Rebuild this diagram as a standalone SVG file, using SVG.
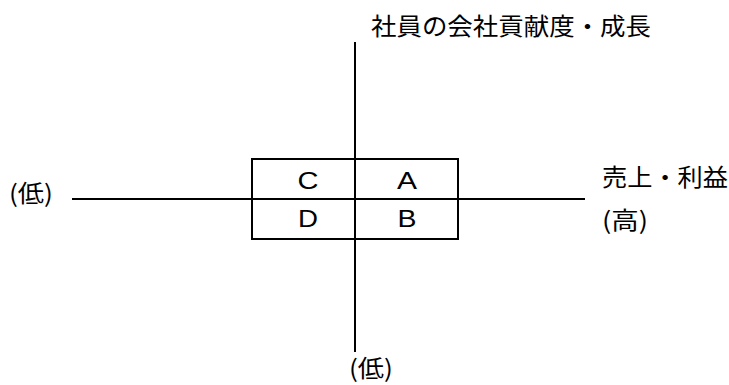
<svg xmlns="http://www.w3.org/2000/svg" width="729" height="385" viewBox="0 0 729 385">
<style>
.ln{stroke:#000;stroke-width:2;fill:none}
.jp{font-family:"Noto Sans CJK JP","Noto Sans",sans-serif;font-size:24px;fill:#000}
.lat{font-family:"Liberation Sans",Arial,sans-serif;font-size:23px;fill:#000;text-anchor:middle}
</style>
<rect width="729" height="385" fill="#fff"/>
<g id="connectors">
<line class="ln" x1="72" y1="199" x2="585" y2="199"/>
<line class="ln" x1="355" y1="42" x2="355" y2="352"/>
</g>
<g id="cell-A">
<rect x="355" y="159" width="103" height="40" fill="#d9d9d9" class="ln"/>
<text class="lat" x="407" y="189" textLength="20" lengthAdjust="spacingAndGlyphs">A</text>
</g>
<g id="cell-C">
<rect x="252" y="159" width="103" height="40" class="ln"/>
<text class="lat" x="308" y="189" textLength="21" lengthAdjust="spacingAndGlyphs">C</text>
</g>
<g id="cell-D">
<rect x="252" y="199" width="103" height="40" class="ln"/>
<text class="lat" x="308" y="227" textLength="20" lengthAdjust="spacingAndGlyphs">D</text>
</g>
<g id="cell-B">
<rect x="355" y="199" width="103" height="40" class="ln"/>
<text class="lat" x="407" y="227" textLength="19" lengthAdjust="spacingAndGlyphs">B</text>
</g>
<g id="label-top">
<text class="jp" x="371" y="35" textLength="280" lengthAdjust="spacingAndGlyphs">社員の会社貢献度・成長</text>
</g>
<g id="label-left">
<text class="jp" x="9" y="202" textLength="44" lengthAdjust="spacingAndGlyphs">(低)</text>
</g>
<g id="label-right">
<text class="jp" x="602" y="186" textLength="126" lengthAdjust="spacingAndGlyphs">売上・利益</text>
<text class="jp" x="602" y="229" textLength="46" lengthAdjust="spacingAndGlyphs">(高)</text>
</g>
<g id="label-bottom">
<text class="jp" x="349" y="377" textLength="44" lengthAdjust="spacingAndGlyphs">(低)</text>
</g>
</svg>
